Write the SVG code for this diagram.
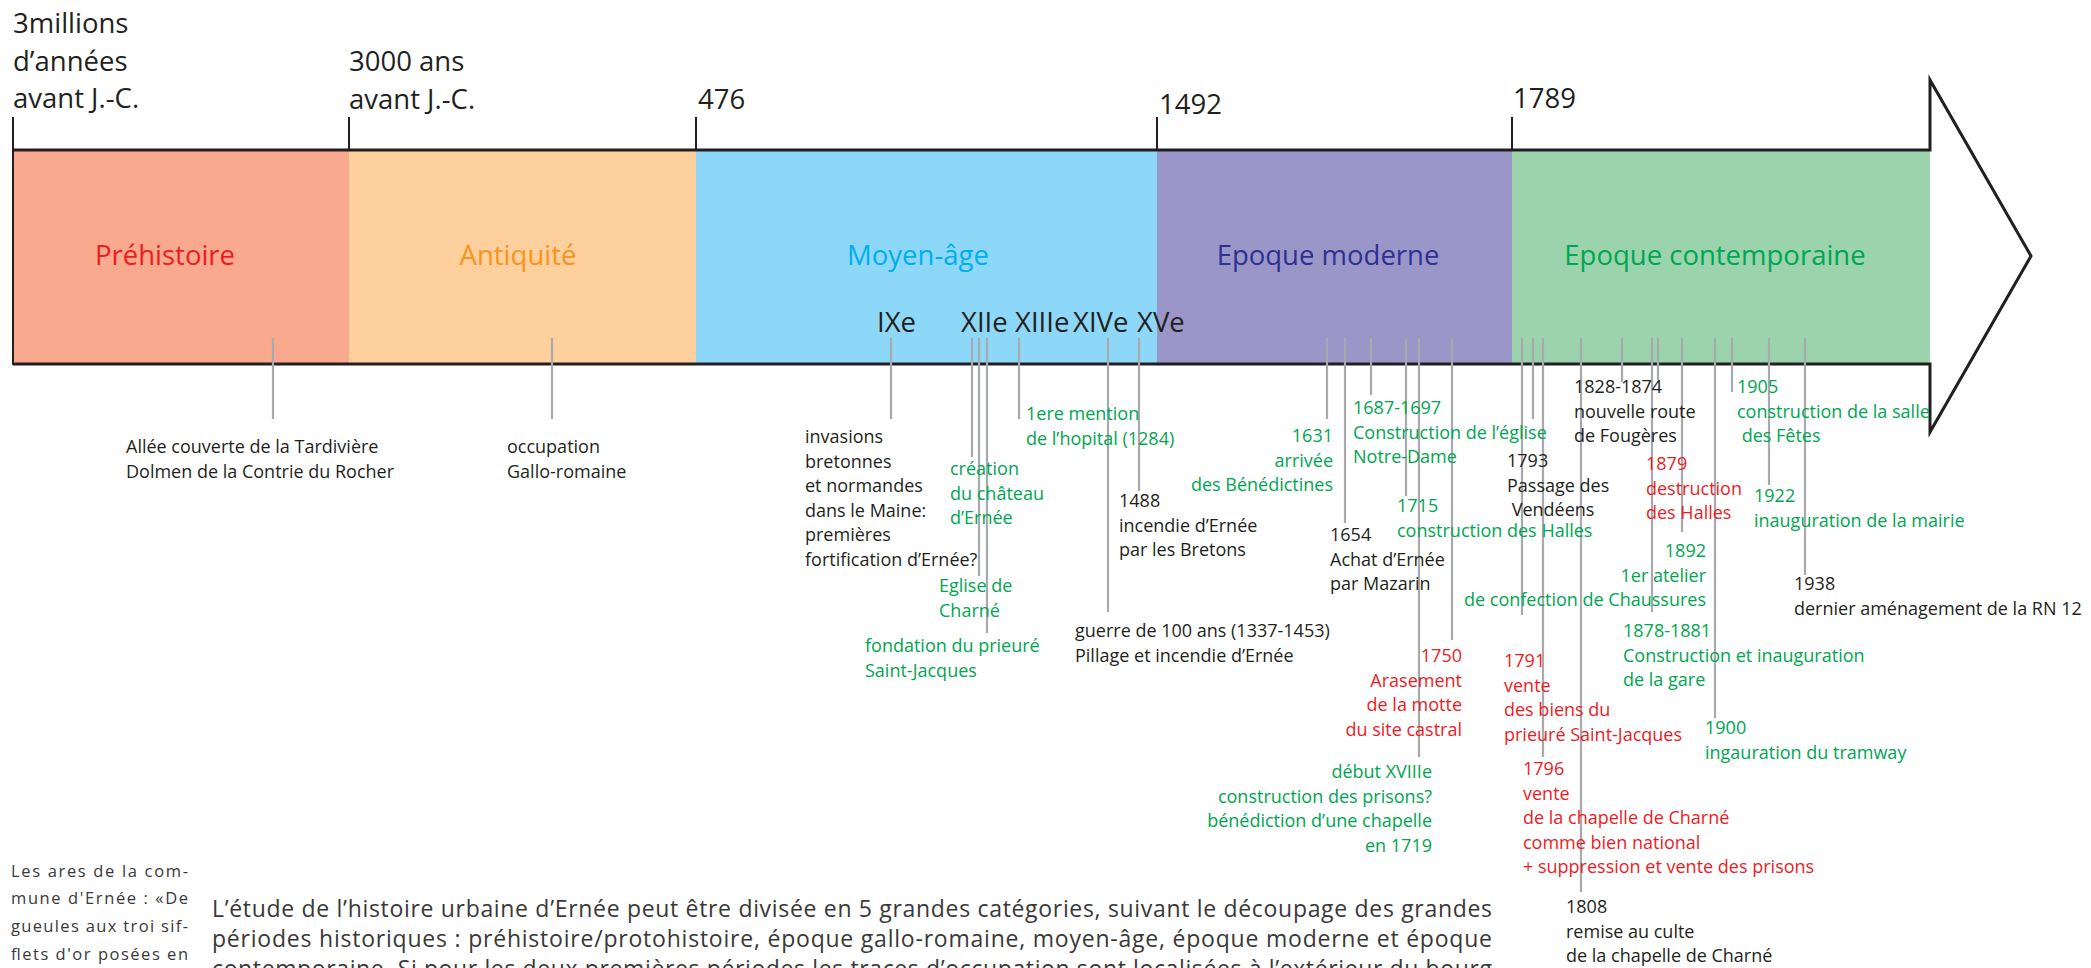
<svg xmlns="http://www.w3.org/2000/svg" width="2091" height="968" viewBox="0 0 2091 968">
<style>
  text { font-family: "Open Sans", "Noto Sans", sans-serif; }
  .big { font-size: 27.5px; fill: #231F20; }
  .lbl { font-size: 18px; }
  .k { fill: #231F20; }
  .g { fill: #00A651; }
  .r { fill: #ED1C24; }
  .gl { stroke: #A7A9AC; stroke-width: 2.2; fill: none; }
  .tick { stroke: #231F20; stroke-width: 2; fill: none; }
  .para { font-family: "Lato", "Liberation Sans", sans-serif; font-weight: 400; fill: #3A3839; }
</style>

<!-- period bands -->
<g id="bands">
  <rect x="13" y="151" width="336" height="212" fill="#F8A98E"/>
  <rect x="349" y="151" width="347" height="212" fill="#FDD09E"/>
  <rect x="696" y="151" width="461" height="212" fill="#8DD8F8"/>
  <rect x="1157" y="151" width="355" height="212" fill="#9B96C8"/>
  <rect x="1512" y="151" width="418" height="212" fill="#9BD3AD"/>
</g>

<!-- outline arrow and ticks -->
<g id="axis">
  <path d="M13,150 H1930 V80 L2031,256 L1930,432 V364 H13" fill="none" stroke="#231F20" stroke-width="3" stroke-linejoin="miter"/>
  <line class="tick" x1="13" y1="117" x2="13" y2="365"/>
  <line class="tick" x1="349" y1="117" x2="349" y2="150"/>
  <line class="tick" x1="696" y1="117" x2="696" y2="150"/>
  <line class="tick" x1="1157" y1="117" x2="1157" y2="150"/>
  <line class="tick" x1="1512" y1="117" x2="1512" y2="150"/>
</g>

<!-- date labels -->
<g id="dates">
  <text class="big" x="13" y="33">3millions<tspan x="13" dy="37.5">d’années</tspan><tspan x="13" dy="37.5">avant J.-C.</tspan></text>
  <text class="big" x="349" y="71">3000 ans<tspan x="349" dy="37.5">avant J.-C.</tspan></text>
  <text class="big" x="698" y="109">476</text>
  <text class="big" x="1159" y="114">1492</text>
  <text class="big" x="1513" y="108">1789</text>
</g>

<!-- period names -->
<g id="periods" text-anchor="middle" font-size="27.5">
  <text x="165" y="265" fill="#ED1C24">Préhistoire</text>
  <text x="518" y="265" fill="#F7941D">Antiquité</text>
  <text x="918" y="265" fill="#00AEEF">Moyen-âge</text>
  <text x="1328" y="265" fill="#2E3192">Epoque moderne</text>
  <text x="1715" y="265" fill="#00A651">Epoque contemporaine</text>
</g>

<!-- centuries -->
<g id="centuries">
  <text class="big" x="877" y="332">IXe</text>
  <text class="big" x="961" y="332">XIIe</text>
  <text class="big" x="1015" y="332">XIIIe</text>
  <text class="big" x="1073" y="332">XIVe</text>
  <text class="big" x="1137" y="332">XVe</text>
</g>

<!-- connectors -->
<g id="connectors" class="gl">
  <line x1="273" y1="338" x2="273" y2="419"/>
  <line x1="552" y1="338" x2="552" y2="419"/>
  <line x1="891" y1="338" x2="891" y2="419"/>
  <line x1="972" y1="338" x2="972" y2="457"/>
  <line x1="979" y1="338" x2="979" y2="576"/>
  <line x1="987" y1="338" x2="987" y2="633"/>
  <line x1="1019" y1="338" x2="1019" y2="419"/>
  <line x1="1108" y1="338" x2="1108" y2="612"/>
  <line x1="1139" y1="338" x2="1139" y2="491"/>
  <line x1="1327" y1="338" x2="1327" y2="419"/>
  <line x1="1345" y1="338" x2="1345" y2="523"/>
  <line x1="1371" y1="338" x2="1371" y2="395"/>
  <line x1="1406" y1="338" x2="1406" y2="496"/>
  <line x1="1419" y1="338" x2="1419" y2="757"/>
  <line x1="1452" y1="338" x2="1452" y2="640"/>
  <line x1="1522" y1="338" x2="1522" y2="615"/>
  <line x1="1533" y1="338" x2="1533" y2="419"/>
  <line x1="1543" y1="338" x2="1543" y2="757"/>
  <line x1="1581" y1="338" x2="1581" y2="892"/>
  <line x1="1622" y1="338" x2="1622" y2="382"/>
  <line x1="1652" y1="338" x2="1652" y2="612"/>
  <line x1="1658" y1="338" x2="1658" y2="380"/>
  <line x1="1682" y1="338" x2="1682" y2="532"/>
  <line x1="1715" y1="338" x2="1715" y2="718"/>
  <line x1="1732" y1="338" x2="1732" y2="392"/>
  <line x1="1769" y1="338" x2="1769" y2="485"/>
  <line x1="1805" y1="338" x2="1805" y2="575"/>
</g>

<!-- event labels -->
<g id="ev-prehistoire"><text class="lbl k" x="126" y="453">Allée couverte de la Tardivière<tspan x="126" dy="24.5">Dolmen de la Contrie du Rocher</tspan></text></g>
<g id="ev-antiquite"><text class="lbl k" x="507" y="453">occupation<tspan x="507" dy="24.5">Gallo-romaine</tspan></text></g>
<g id="ev-ixe"><text class="lbl k" x="805" y="443">invasions<tspan x="805" dy="24.6">bretonnes</tspan><tspan x="805" dy="24.6">et normandes</tspan><tspan x="805" dy="24.6">dans le Maine:</tspan><tspan x="805" dy="24.6">premières</tspan><tspan x="805" dy="24.6">fortification d’Ernée?</tspan></text></g>
<g id="ev-chateau"><text class="lbl g" x="950" y="475">création<tspan x="950" dy="24.6">du château</tspan><tspan x="950" dy="24.6">d’Ernée</tspan></text></g>
<g id="ev-hopital"><text class="lbl g" x="1026" y="420">1ere mention<tspan x="1026" dy="24.6">de l’hopital (1284)</tspan></text></g>
<g id="ev-charne"><text class="lbl g" x="939" y="592">Eglise de<tspan x="939" dy="24.6">Charné</tspan></text></g>
<g id="ev-prieure"><text class="lbl g" x="865" y="652">fondation du prieuré<tspan x="865" dy="24.6">Saint-Jacques</tspan></text></g>
<g id="ev-1488"><text class="lbl k" x="1119" y="507">1488<tspan x="1119" dy="24.6">incendie d’Ernée</tspan><tspan x="1119" dy="24.6">par les Bretons</tspan></text></g>
<g id="ev-guerre"><text class="lbl k" x="1075" y="637">guerre de 100 ans (1337-1453)<tspan x="1075" dy="24.6">Pillage et incendie d’Ernée</tspan></text></g>
<g id="ev-1631"><text class="lbl g" x="1333" y="442" text-anchor="end">1631<tspan x="1333" dy="24.6">arrivée</tspan><tspan x="1333" dy="24.6">des Bénédictines</tspan></text></g>
<g id="ev-1687"><text class="lbl g" x="1353" y="414">1687-1697<tspan x="1353" dy="24.6">Construction de l’église</tspan><tspan x="1353" dy="24.6">Notre-Dame</tspan></text></g>
<g id="ev-1654"><text class="lbl k" x="1330" y="541">1654<tspan x="1330" dy="24.6">Achat d’Ernée</tspan><tspan x="1330" dy="24.6">par Mazarin</tspan></text></g>
<g id="ev-1715"><text class="lbl g" x="1397" y="512">1715<tspan x="1397" dy="24.6">construction des Halles</tspan></text></g>
<g id="ev-1750"><text class="lbl r" x="1462" y="662" text-anchor="end">1750<tspan x="1462" dy="24.6">Arasement</tspan><tspan x="1462" dy="24.6">de la motte</tspan><tspan x="1462" dy="24.6">du site castral</tspan></text></g>
<g id="ev-xviii"><text class="lbl g" x="1432" y="778" text-anchor="end">début XVIIIe<tspan x="1432" dy="24.6">construction des prisons?</tspan><tspan x="1432" dy="24.6">bénédiction d’une chapelle</tspan><tspan x="1432" dy="24.6">en 1719</tspan></text></g>
<g id="ev-1793"><text class="lbl k" x="1507" y="467">1793<tspan x="1507" dy="24.6">Passage des</tspan><tspan x="1507" dy="24.6"> Vendéens</tspan></text></g>
<g id="ev-1791"><text class="lbl r" x="1504" y="667">1791<tspan x="1504" dy="24.6">vente</tspan><tspan x="1504" dy="24.6">des biens du</tspan><tspan x="1504" dy="24.6">prieuré Saint-Jacques</tspan></text></g>
<g id="ev-1796"><text class="lbl r" x="1523" y="775">1796<tspan x="1523" dy="24.5">vente</tspan><tspan x="1523" dy="24.5">de la chapelle de Charné</tspan><tspan x="1523" dy="24.5">comme bien national</tspan><tspan x="1523" dy="24.5">+ suppression et vente des prisons</tspan></text></g>
<g id="ev-1808"><text class="lbl k" x="1566" y="913">1808<tspan x="1566" dy="24.6">remise au culte</tspan><tspan x="1566" dy="24.6">de la chapelle de Charné</tspan></text></g>
<g id="ev-1828"><text class="lbl k" x="1574" y="393">1828-1874<tspan x="1574" dy="24.6">nouvelle route</tspan><tspan x="1574" dy="24.6">de Fougères</tspan></text></g>
<g id="ev-1879"><text class="lbl r" x="1646" y="470">1879<tspan x="1646" dy="24.6">destruction</tspan><tspan x="1646" dy="24.6">des Halles</tspan></text></g>
<g id="ev-1892"><text class="lbl g" x="1706" y="557" text-anchor="end">1892<tspan x="1706" dy="24.6">1er atelier</tspan><tspan x="1706" dy="24.6">de confection de Chaussures</tspan></text></g>
<g id="ev-1878"><text class="lbl g" x="1623" y="637">1878-1881<tspan x="1623" dy="24.6">Construction et inauguration</tspan><tspan x="1623" dy="24.6">de la gare</tspan></text></g>
<g id="ev-1900"><text class="lbl g" x="1705" y="734">1900<tspan x="1705" dy="24.6">ingauration du tramway</tspan></text></g>
<g id="ev-1905"><text class="lbl g" x="1737" y="393">1905<tspan x="1737" dy="24.6">construction de la salle</tspan><tspan x="1737" dy="24.6"> des Fêtes</tspan></text></g>
<g id="ev-1922"><text class="lbl g" x="1754" y="502">1922<tspan x="1754" dy="24.6">inauguration de la mairie</tspan></text></g>
<g id="ev-1938"><text class="lbl k" x="1794" y="590">1938<tspan x="1794" dy="24.6">dernier aménagement de la RN 12</tspan></text></g>

<!-- side note -->
<g id="side-note" class="para" font-size="16.5">
  <text x="11" y="877" textLength="177" lengthAdjust="spacing">Les ares de la com-</text>
  <text x="11" y="904" textLength="177" lengthAdjust="spacing">mune d'Ernée : «De</text>
  <text x="11" y="932" textLength="177" lengthAdjust="spacing">gueules aux troi sif-</text>
  <text x="11" y="960" textLength="177" lengthAdjust="spacing">flets d'or posées en</text>
</g>

<!-- paragraph -->
<g id="paragraph" class="para" font-size="23">
  <text x="212" y="917" textLength="1280" lengthAdjust="spacing">L’étude de l’histoire urbaine d’Ernée peut être divisée en 5 grandes catégories, suivant le découpage des grandes</text>
  <text x="212" y="947" textLength="1280" lengthAdjust="spacing">périodes historiques : préhistoire/protohistoire, époque gallo-romaine, moyen-âge, époque moderne et époque</text>
  <text x="212" y="977" textLength="1280" lengthAdjust="spacing">contemporaine. Si pour les deux premières périodes les traces d’occupation sont localisées à l’extérieur du bourg</text>
</g>
</svg>
